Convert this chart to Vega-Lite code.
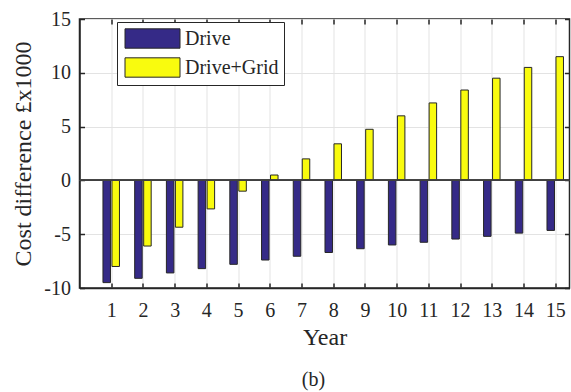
{
  "$schema": "https://vega.github.io/schema/vega-lite/v6.json",
  "width": 490,
  "height": 269,
  "autosize": "none",
  "padding": {"left": 79.5, "top": 19, "right": 1.5, "bottom": 104},
  "background": "white",
  "config": {
    "font": "Liberation Serif",
    "view": {"stroke": "#262626", "strokeWidth": 1.5},
    "axis": {
      "labelFont": "Liberation Serif",
      "labelFontSize": 20,
      "labelColor": "#262626",
      "titleFont": "Liberation Serif",
      "titleFontSize": 24,
      "titleFontWeight": "normal",
      "titleColor": "#262626",
      "domainColor": "#262626",
      "domainWidth": 1.5,
      "tickColor": "#262626",
      "tickWidth": 1.5,
      "tickSize": -5,
      "gridColor": "#e3e3e3",
      "gridWidth": 1
    },
    "legend": {
      "orient": "none",
      "legendX": 37.5,
      "legendY": 3,
      "padding": 5,
      "strokeColor": "#262626",
      "fillColor": "white",
      "symbolType": "M-2.5,-0.88L2.5,-0.88L2.5,0.88L-2.5,0.88Z",
      "symbolSize": 484,
      "symbolOffset": 19,
      "symbolStrokeColor": "#262626",
      "symbolStrokeWidth": 1,
      "symbolOpacity": 1,
      "labelFont": "Liberation Serif",
      "labelFontSize": 20,
      "labelColor": "#262626",
      "labelOffset": 21,
      "rowPadding": 4
    }
  },
  "title": {
    "text": "(b)",
    "orient": "bottom",
    "anchor": "middle",
    "dx": -11,
    "offset": 21,
    "font": "Liberation Serif",
    "fontSize": 20,
    "fontWeight": "normal",
    "color": "#262626"
  },
  "data": {
    "values": [
      {"year": 1, "series": "Drive", "cost": -9.5},
      {"year": 2, "series": "Drive", "cost": -9.1},
      {"year": 3, "series": "Drive", "cost": -8.6},
      {"year": 4, "series": "Drive", "cost": -8.2},
      {"year": 5, "series": "Drive", "cost": -7.8},
      {"year": 6, "series": "Drive", "cost": -7.4},
      {"year": 7, "series": "Drive", "cost": -7.05},
      {"year": 8, "series": "Drive", "cost": -6.7},
      {"year": 9, "series": "Drive", "cost": -6.35},
      {"year": 10, "series": "Drive", "cost": -6.0},
      {"year": 11, "series": "Drive", "cost": -5.75},
      {"year": 12, "series": "Drive", "cost": -5.45},
      {"year": 13, "series": "Drive", "cost": -5.2},
      {"year": 14, "series": "Drive", "cost": -4.9},
      {"year": 15, "series": "Drive", "cost": -4.65},
      {"year": 1, "series": "Drive+Grid", "cost": -8.0},
      {"year": 2, "series": "Drive+Grid", "cost": -6.1},
      {"year": 3, "series": "Drive+Grid", "cost": -4.35},
      {"year": 4, "series": "Drive+Grid", "cost": -2.65},
      {"year": 5, "series": "Drive+Grid", "cost": -1.0},
      {"year": 6, "series": "Drive+Grid", "cost": 0.5},
      {"year": 7, "series": "Drive+Grid", "cost": 2.0},
      {"year": 8, "series": "Drive+Grid", "cost": 3.4},
      {"year": 9, "series": "Drive+Grid", "cost": 4.75},
      {"year": 10, "series": "Drive+Grid", "cost": 6.0},
      {"year": 11, "series": "Drive+Grid", "cost": 7.2},
      {"year": 12, "series": "Drive+Grid", "cost": 8.4},
      {"year": 13, "series": "Drive+Grid", "cost": 9.5},
      {"year": 14, "series": "Drive+Grid", "cost": 10.5},
      {"year": 15, "series": "Drive+Grid", "cost": 11.5}
    ]
  },
  "layer": [
    {
      "transform": [{"filter": "datum.series === 'Drive'"}],
      "mark": {"type": "bar", "width": 7.5, "xOffset": -4.5, "stroke": "#262626", "strokeWidth": 1},
      "encoding": {
        "x": {
          "field": "year",
          "type": "quantitative",
          "scale": {"domain": [0, 15.45], "nice": false, "zero": false, "padding": 0},
          "axis": {
            "orient": "bottom",
            "values": [1, 2, 3, 4, 5, 6, 7, 8, 9, 10, 11, 12, 13, 14, 15],
            "format": "d",
            "title": "Year",
            "labelPadding": 17,
            "titlePadding": 5,
            "grid": true
          }
        },
        "y": {
          "field": "cost",
          "type": "quantitative",
          "scale": {"domain": [-10, 15], "nice": false, "padding": 0},
          "axis": {
            "orient": "left",
            "values": [-10, -5, 0, 5, 10, 15],
            "labelExpr": "'' + datum.value",
            "title": "Cost difference £x1000",
            "labelPadding": 14,
            "titlePadding": 8,
            "grid": true
          }
        },
        "color": {
          "field": "series",
          "type": "nominal",
          "scale": {"domain": ["Drive", "Drive+Grid"], "range": ["#352a87", "#f9fb0e"]},
          "legend": {"title": null}
        }
      }
    },
    {
      "transform": [{"filter": "datum.series === 'Drive+Grid'"}],
      "mark": {"type": "bar", "width": 7.5, "xOffset": 4.5, "stroke": "#262626", "strokeWidth": 1},
      "encoding": {
        "x": {
          "field": "year",
          "type": "quantitative",
          "axis": {
            "orient": "top",
            "values": [1, 2, 3, 4, 5, 6, 7, 8, 9, 10, 11, 12, 13, 14, 15],
            "labels": false,
            "domain": false,
            "grid": false,
            "title": null
          }
        },
        "y": {
          "field": "cost",
          "type": "quantitative",
          "axis": {
            "orient": "right",
            "values": [-10, -5, 0, 5, 10, 15],
            "labels": false,
            "domain": false,
            "grid": false,
            "title": null
          }
        },
        "color": {
          "field": "series",
          "type": "nominal",
          "legend": {"title": null}
        }
      }
    },
    {
      "mark": {"type": "rule", "color": "#404040", "strokeWidth": 1},
      "encoding": {
        "y": {"datum": 0, "type": "quantitative", "axis": null}
      }
    }
  ],
  "resolve": {"axis": {"x": "independent", "y": "independent"}}
}
